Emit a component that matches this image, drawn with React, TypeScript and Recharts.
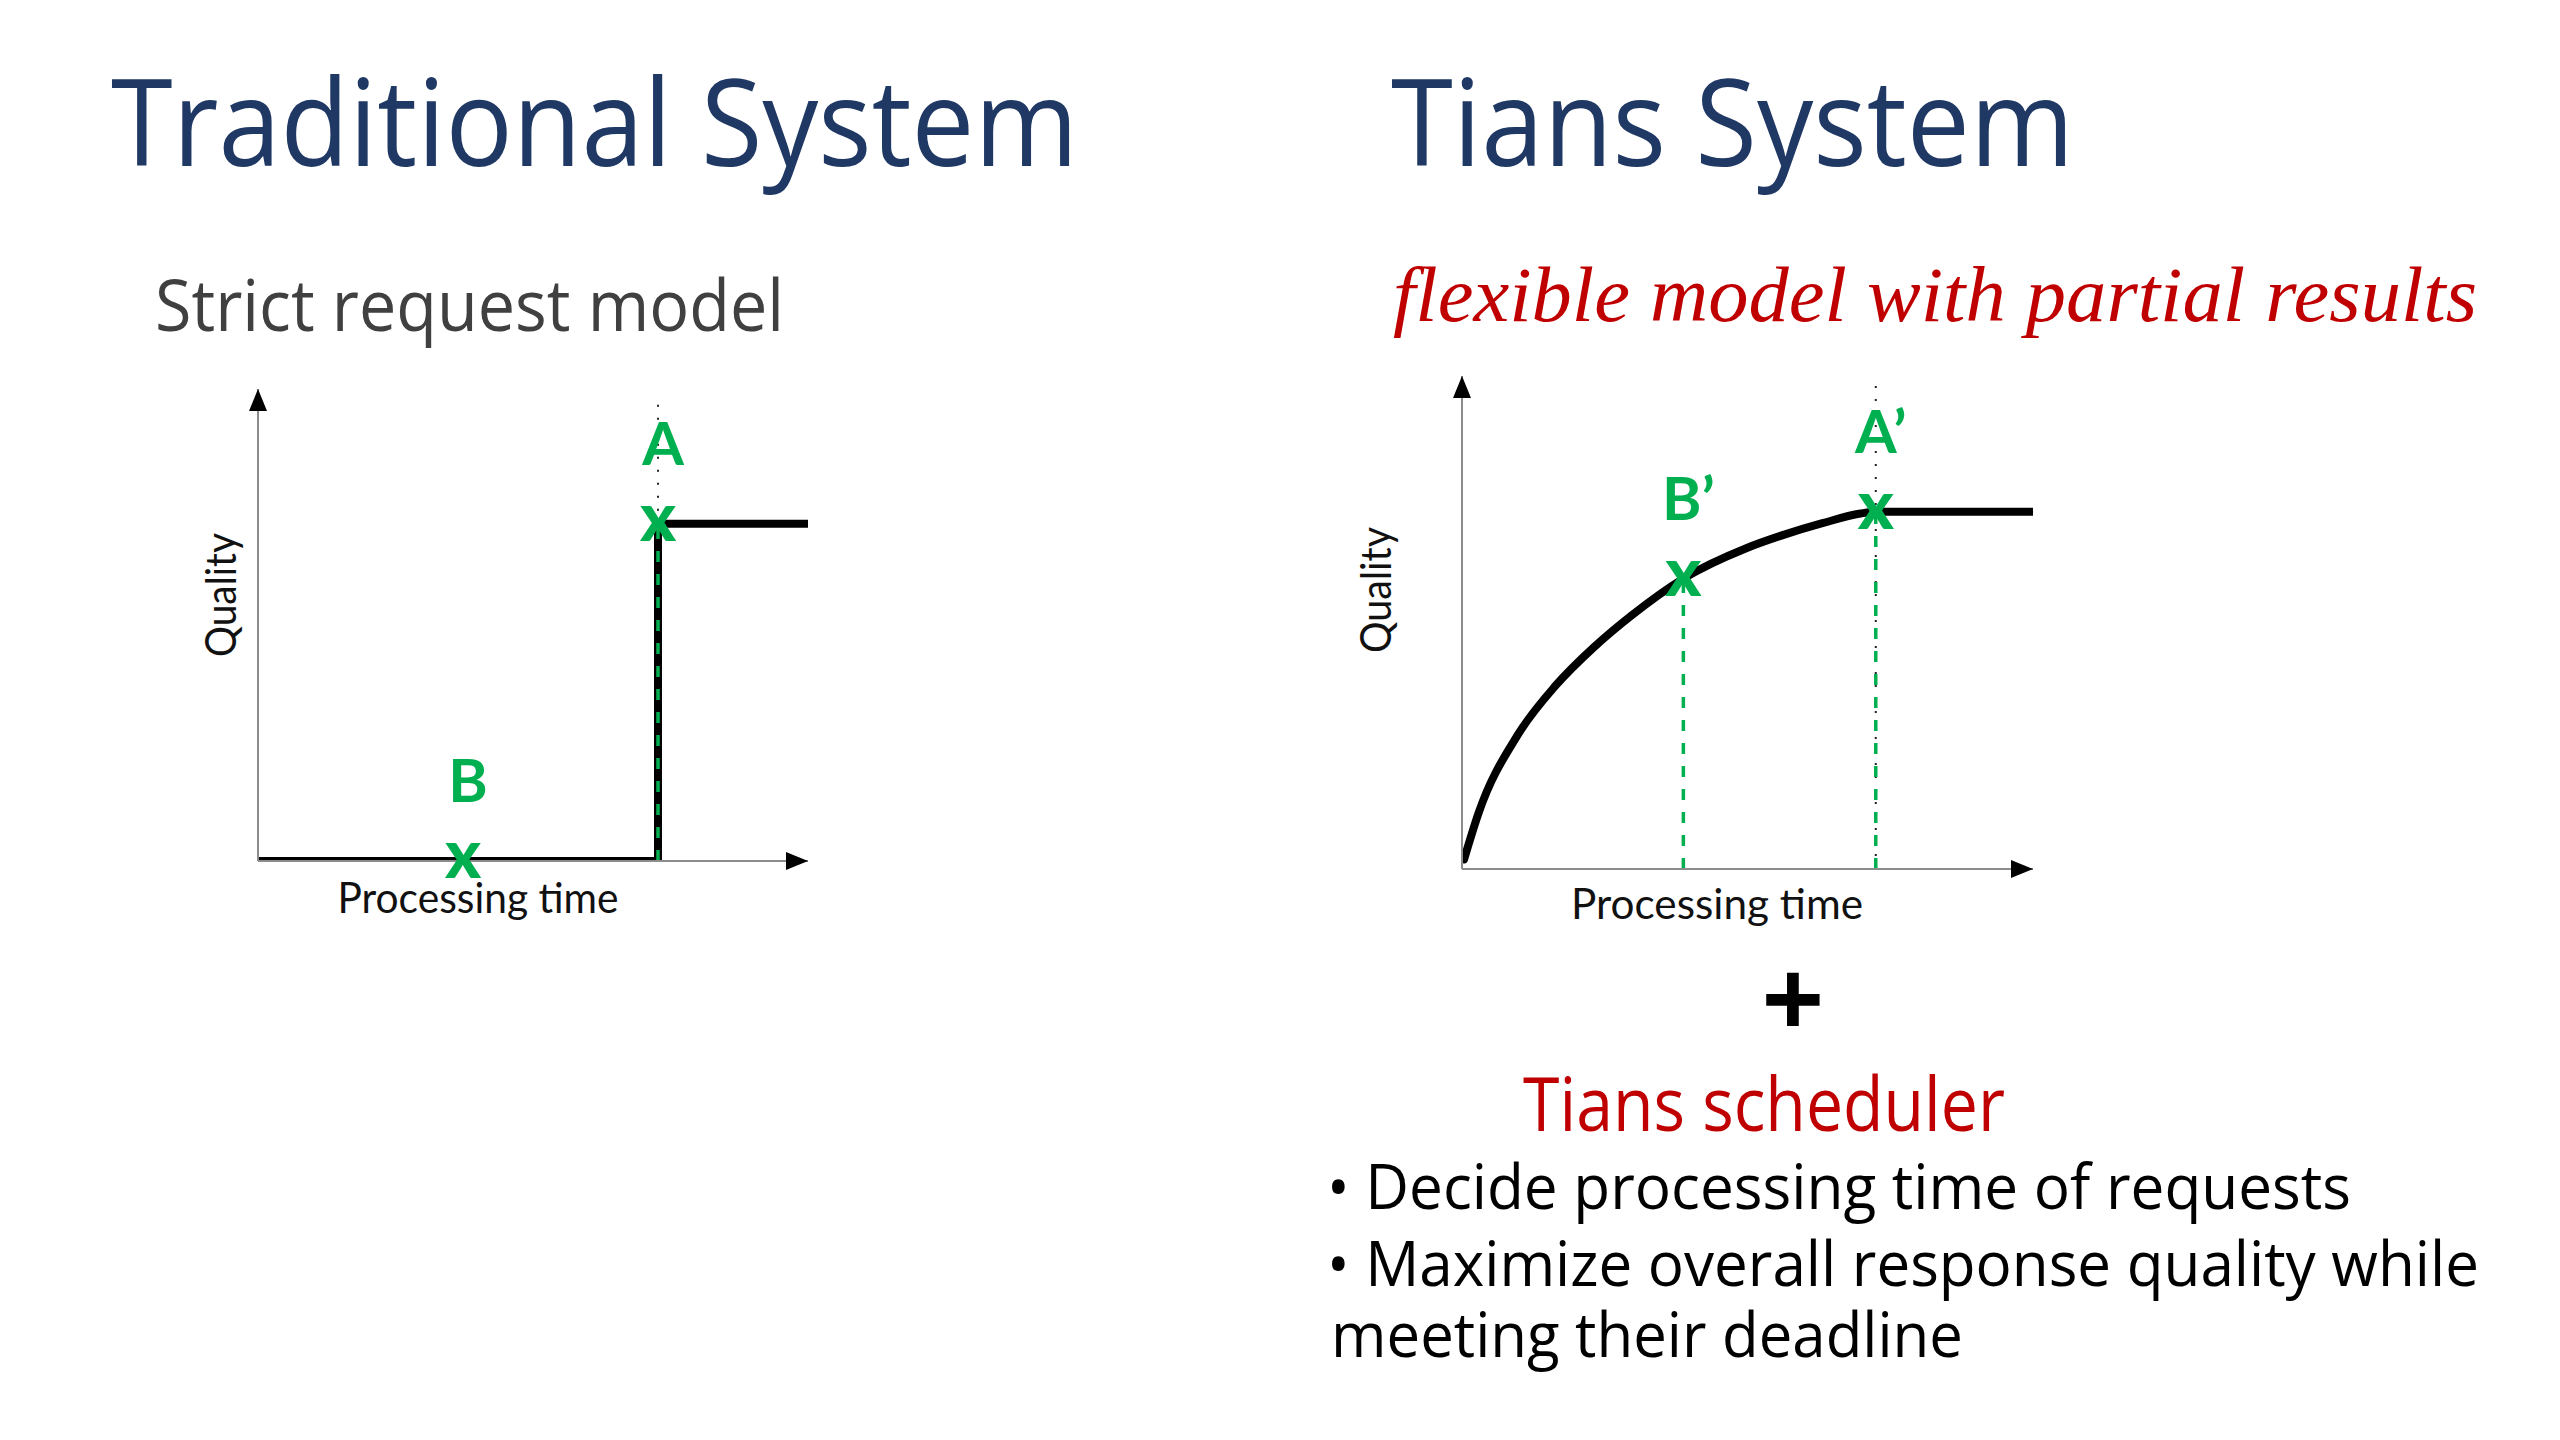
import React from 'react';
import { LineChart, Line, XAxis, YAxis, ReferenceLine, ReferenceDot } from 'recharts';

// ---------- data ----------
// Traditional system: strict request model (step function)
const stepTime = [0, 8, 8, 11];
const stepQuality = [0, 0, 10, 10];
const stepMarkerNames = ['B', 'A'];
const stepMarkerTime = [4.1, 8];
const stepMarkerQuality = [0, 10];

// Tians system: flexible model with partial results (concave curve)
const curveTime = [0.05, 0.41, 1.34, 2.26, 3.18, 4.1, 5.35, 6.87, 7.79, 8.71, 9.63, 10, 13.8];
const curveQuality = [0.27, 1.6, 3.74, 5.13, 6.2, 7.1, 8.13, 8.98, 9.36, 9.68, 9.95, 10, 10];
const curveMarkerNames = ['B’', 'A’'];
const curveMarkerTime = [5.35, 10];
const curveMarkerQuality = [8.13, 10];

const axisTitleX = 'Processing time';
const axisTitleY = 'Quality';

const GREEN = '#00B050';
const RED = '#C00000';
const NAVY = '#1F3864';

type ChartProps = {
  left: number;
  top: number;
  plotLeft: number;
  plotTop: number;
  plotW: number;
  plotH: number;
  times: number[];
  quals: number[];
  xMax: number;
  yMax: number;
  curveType: 'linear' | 'monotone';
  names: string[];
  mt: number[];
  mq: number[];
  dottedFrom: number;
  dottedTo: number;
  dottedX: number;
};

const W = 1280;
const H = 1000;

function XMark(props: any) {
  const { cx, cy, name } = props;
  if (cx == null || cy == null) return null;
  return (
    <g>
      <text x={cx} y={cy + 17} textAnchor="middle" fontFamily="Lato" fontWeight={900} fontSize={68} fill={GREEN}>
        x
      </text>
      <text x={cx + 5} y={cy - 59} textAnchor="middle" fontFamily="Lato" fontWeight={700} fontSize={60} fill={GREEN}>
        {name}
      </text>
    </g>
  );
}

function UpArrow(props: any) {
  const { cx, cy } = props;
  if (cx == null || cy == null) return null;
  return <polygon points={`${cx},${cy} ${cx - 9},${cy + 22} ${cx + 9},${cy + 22}`} fill="#000" />;
}

function RightArrow(props: any) {
  const { cx, cy } = props;
  if (cx == null || cy == null) return null;
  return <polygon points={`${cx},${cy} ${cx - 22},${cy - 9} ${cx - 22},${cy + 9}`} fill="#000" />;
}

function ConceptChart(p: ChartProps) {
  const data = p.times.map((t, i) => ({ t, q: p.quals[i] }));
  const margin = {
    left: p.plotLeft - 1,
    top: p.plotTop,
    right: W - p.plotLeft - p.plotW,
    bottom: H - p.plotTop - p.plotH - 1,
  };
  return (
    <div style={{ position: 'absolute', left: p.left, top: p.top, width: W, height: H }}>
      <LineChart width={W} height={H} data={data} margin={margin}>
        <XAxis
          type="number"
          dataKey="t"
          domain={[0, p.xMax]}
          allowDataOverflow
          height={1}
          tick={false}
          tickLine={false}
          axisLine={{ stroke: '#8c8c8c', strokeWidth: 2 }}
        />
        <YAxis
          type="number"
          domain={[0, p.yMax]}
          allowDataOverflow
          width={1}
          tick={false}
          tickLine={false}
          axisLine={{ stroke: '#8c8c8c', strokeWidth: 2 }}
        />
        <ReferenceLine
          segment={[{ x: p.dottedX, y: p.dottedFrom }, { x: p.dottedX, y: p.dottedTo }]}
          stroke="#222"
          strokeWidth={2}
          strokeDasharray="2 11"
          ifOverflow="visible"
        />
        <Line
          type={p.curveType}
          dataKey="q"
          stroke="#000"
          strokeWidth={8}
          strokeLinecap="round"
          dot={false}
          activeDot={false}
          isAnimationActive={false}
        />
        {p.names.map((n, i) => (
          <ReferenceLine
            key={'g' + n}
            segment={[{ x: p.mt[i], y: 0 }, { x: p.mt[i], y: p.mq[i] }]}
            stroke={GREEN}
            strokeWidth={3.5}
            strokeDasharray="11 12"
            ifOverflow="visible"
          />
        ))}
        <ReferenceDot x={0} y={p.yMax} r={1} ifOverflow="visible" shape={(s: any) => <UpArrow {...s} />} />
        <ReferenceDot x={p.xMax} y={0} r={1} ifOverflow="visible" shape={(s: any) => <RightArrow {...s} />} />
        {p.names.map((n, i) => (
          <ReferenceDot
            key={'m' + n}
            x={p.mt[i]}
            y={p.mq[i]}
            r={1}
            ifOverflow="visible"
            shape={(s: any) => <XMark {...s} name={n} />}
          />
        ))}
      </LineChart>
    </div>
  );
}

export default function App() {
  return (
    <div
      style={{
        position: 'absolute',
        left: 0,
        top: 0,
        width: 2560,
        height: 1440,
        background: '#fff',
        overflow: 'hidden',
      }}
    >
      <ConceptChart
        left={0}
        top={0}
        plotLeft={258}
        plotTop={389}
        plotW={550}
        plotH={472}
        times={stepTime}
        quals={stepQuality}
        xMax={11}
        yMax={14}
        curveType="linear"
        names={stepMarkerNames}
        mt={stepMarkerTime}
        mq={stepMarkerQuality}
        dottedX={8}
        dottedFrom={10}
        dottedTo={13.8}
      />
      <ConceptChart
        left={1280}
        top={0}
        plotLeft={182}
        plotTop={376}
        plotW={571}
        plotH={493}
        times={curveTime}
        quals={curveQuality}
        xMax={13.8}
        yMax={13.8}
        curveType="monotone"
        names={curveMarkerNames}
        mt={curveMarkerTime}
        mq={curveMarkerQuality}
        dottedX={10}
        dottedFrom={0}
        dottedTo={13.58}
      />
      <svg
        width={2560}
        height={1440}
        style={{ position: 'absolute', left: 0, top: 0, pointerEvents: 'none' }}
      >
        <text x={111} y={166} fontFamily="Open Sans" fontSize={120} fill={NAVY} textLength={967} lengthAdjust="spacingAndGlyphs">
          Traditional System
        </text>
        <text x={1391} y={166} fontFamily="Open Sans" fontSize={120} fill={NAVY} textLength={683} lengthAdjust="spacingAndGlyphs">
          Tians System
        </text>
        <text x={155} y={331} fontFamily="Open Sans" fontSize={71} fill="#404040" textLength={629} lengthAdjust="spacingAndGlyphs">
          Strict request model
        </text>
        <text x={1393} y={321} fontFamily="Liberation Serif" fontStyle="italic" fontSize={78} fill={RED} textLength={1084} lengthAdjust="spacingAndGlyphs">
          flexible model with partial results
        </text>

        <text x={220} y={595} transform="rotate(-90 220 595)" textAnchor="middle" dominantBaseline="central" fontFamily="Lato" fontSize={42} fill="#111" textLength={124} lengthAdjust="spacingAndGlyphs">
          {axisTitleY}
        </text>
        <text x={478} y={913} textAnchor="middle" fontFamily="Lato" fontSize={42} fill="#111" textLength={281} lengthAdjust="spacingAndGlyphs">
          {axisTitleX}
        </text>
        <text x={1375} y={590} transform="rotate(-90 1375 590)" textAnchor="middle" dominantBaseline="central" fontFamily="Lato" fontSize={42} fill="#111" textLength={126} lengthAdjust="spacingAndGlyphs">
          {axisTitleY}
        </text>
        <text x={1717} y={919} textAnchor="middle" fontFamily="Lato" fontSize={42} fill="#111" textLength={292} lengthAdjust="spacingAndGlyphs">
          {axisTitleX}
        </text>

        <text x={1793} y={1038} textAnchor="middle" fontFamily="Open Sans" fontWeight={700} fontSize={110} fill="#000">
          +
        </text>
        <text x={1523} y={1131} fontFamily="Open Sans" fontSize={75} fill={RED} textLength={482} lengthAdjust="spacingAndGlyphs">
          Tians scheduler
        </text>
        <text x={1327} y={1209} fontFamily="Open Sans" fontSize={63} fill="#000" textLength={1024} lengthAdjust="spacingAndGlyphs">
          • Decide processing time of requests
        </text>
        <text x={1327} y={1286} fontFamily="Open Sans" fontSize={63} fill="#000" textLength={1152} lengthAdjust="spacingAndGlyphs">
          • Maximize overall response quality while
        </text>
        <text x={1331} y={1357} fontFamily="Open Sans" fontSize={63} fill="#000" textLength={632} lengthAdjust="spacingAndGlyphs">
          meeting their deadline
        </text>
      </svg>
    </div>
  );
}
